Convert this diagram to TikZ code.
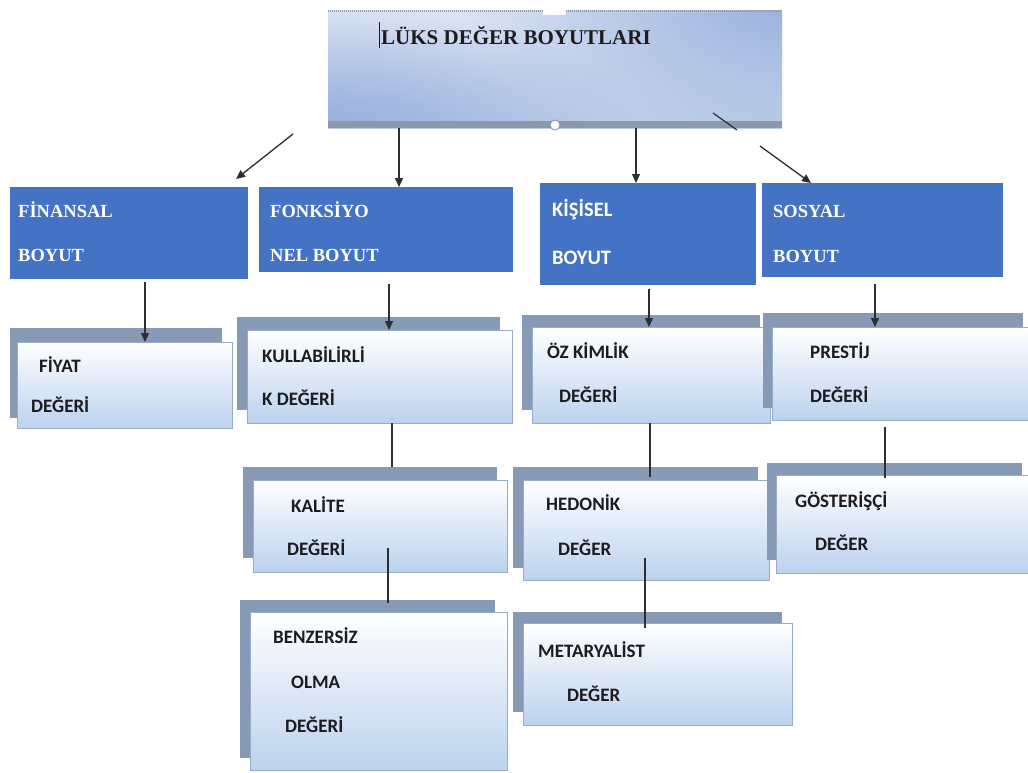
\documentclass[tikz,border=0pt]{standalone}
\usepackage{fontspec}
\setmainfont{Liberation Serif}
\newfontfamily\calib{Carlito}
\usetikzlibrary{arrows.meta,fadings}
\definecolor{boxblue}{RGB}{68,114,196}
\definecolor{backgrey}{RGB}{134,154,182}
\definecolor{lightbot}{RGB}{188,210,238}
\definecolor{frontedge}{RGB}{150,172,200}
\definecolor{darktxt}{RGB}{28,28,30}
\definecolor{titletop}{RGB}{222,230,244}
\definecolor{titlemid}{RGB}{226,233,245}
\definecolor{titlebot}{RGB}{190,205,234}
\definecolor{titleblue}{RGB}{150,174,220}
\definecolor{bandgrey}{RGB}{140,152,172}
\definecolor{linecol}{RGB}{45,45,50}
\tikzfading[name=softblob, inner color=transparent!0, outer color=transparent!100]
\begin{document}
\begin{tikzpicture}[x=1pt,y=-1pt,
  bluebox/.style={fill=boxblue, draw=none, inner sep=0pt, outer sep=0pt, anchor=north west},
  frontbox/.style={top color=white, bottom color=lightbot, draw=frontedge, line width=0.8pt, inner sep=0pt, outer sep=0pt, anchor=north west},
  backbox/.style={fill=backgrey, draw=none, inner sep=0pt, outer sep=0pt, anchor=north west},
  btxt/.style={anchor=base west, inner sep=0pt, text=white, font=\fontsize{18.5}{20}\selectfont\bfseries},
  bctxt/.style={anchor=base west, inner sep=0pt, text=white, font=\calib\fontsize{20.5}{22}\selectfont\bfseries},
  ctxt/.style={anchor=base west, inner sep=0pt, text=darktxt, font=\calib\fontsize{19}{20}\selectfont\bfseries},
  arr/.style={draw=linecol, line width=1.3pt, -{Triangle[length=9pt,width=8pt]}},
  conn/.style={draw=linecol, line width=1.2pt},
]
\useasboundingbox (0,0) rectangle (1028,772);
\fill[white] (0,0) rectangle (1028,772);

% ---------- title box ----------
\node[anchor=north west, inner sep=0pt, outer sep=0pt, minimum width=454pt, minimum height=118pt,
      top color=titletop, middle color=titlemid, bottom color=titlebot] (top) at (328,10) {};
\begin{scope}
  \clip (328,10) rectangle (782,121);
  \fill[titleblue, path fading=softblob] (800,0) ellipse (340pt and 150pt);
  \fill[titleblue, path fading=softblob] (320,135) ellipse (320pt and 130pt);
\end{scope}
\fill[bandgrey] (328,121) rectangle (782,128);
\draw[bandgrey, line width=1.5pt, dash pattern=on 1pt off 1pt] (328,11) -- (782,11);
\fill[white] (543,6) rectangle (566,15);
\node[circle, draw=bandgrey, fill=white, minimum size=10pt, inner sep=0pt, line width=1pt] (cir) at (555,125) {};
\draw[darktxt, line width=0.7pt] (379,22) -- (379,48);
\node[anchor=base west, inner sep=0pt, text=darktxt, font=\fontsize{21}{22}\selectfont\bfseries] (title) at (381,44) {LÜKS DEĞER BOYUTLARI};

% ---------- blue boxes ----------
\node[bluebox, minimum width=238pt, minimum height=92pt] (fin) at (10,187) {};
\node[bluebox, minimum width=254pt, minimum height=85pt] (fonk) at (259,187) {};
\node[bluebox, minimum width=216pt, minimum height=102pt] (kis) at (540,183) {};
\node[bluebox, minimum width=241pt, minimum height=94pt] (sos) at (762,183) {};

\node[btxt] (finA) at (18,217) {FİNANSAL};
\node[btxt] (finB) at (18,261) {BOYUT};
\node[btxt] (fonkA) at (270,217) {FONKSİYO};
\node[btxt] (fonkB) at (270,261) {NEL BOYUT};
\node[bctxt] (kisA) at (552,216) {KİŞİSEL};
\node[bctxt] (kisB) at (552,264) {BOYUT};
\node[btxt] (sosA) at (773,217) {SOSYAL};
\node[btxt] (sosB) at (773,262) {BOYUT};

% ---------- light boxes: finansal ----------
\node[backbox, minimum width=212pt, minimum height=90pt] (fiyB) at (10,328) {};
\node[frontbox, minimum width=215pt, minimum height=86pt] (fiy) at (17,342) {};
\node[ctxt] (fiyA) at (39,372) {FİYAT};
\node[ctxt] (fiyC) at (31,412) {DEĞERİ};

% ---------- fonksiyonel ----------
\node[backbox, minimum width=263pt, minimum height=93pt] (kulB) at (237,317) {};
\node[frontbox, minimum width=265pt, minimum height=93pt] (kul) at (247,330) {};
\node[ctxt] (kulA) at (262,362) {KULLABİLİRLİ};
\node[ctxt] (kulC) at (262,405) {K DEĞERİ};

\node[backbox, minimum width=254pt, minimum height=91pt] (kalB) at (243,467) {};
\node[frontbox, minimum width=254pt, minimum height=92pt] (kal) at (253,480) {};
\node[ctxt] (kalA) at (291,512) {KALİTE};
\node[ctxt] (kalC) at (287,555) {DEĞERİ};

\node[backbox, minimum width=255pt, minimum height=158pt] (benB) at (240,600) {};
\node[frontbox, minimum width=257pt, minimum height=158pt] (ben) at (250,612) {};
\node[ctxt] (benA) at (273,643) {BENZERSİZ};
\node[ctxt] (benC) at (291,688) {OLMA};
\node[ctxt] (benD) at (285,732) {DEĞERİ};

% ---------- kisisel ----------
\node[backbox, minimum width=238pt, minimum height=95pt] (ozB) at (522,315) {};
\node[frontbox, minimum width=238pt, minimum height=96pt] (oz) at (532,327) {};
\node[ctxt] (ozA) at (547,358) {ÖZ KİMLİK};
\node[ctxt] (ozC) at (559,402) {DEĞERİ};

\node[backbox, minimum width=245pt, minimum height=101pt] (hedB) at (513,467) {};
\node[frontbox, minimum width=246pt, minimum height=100pt] (hed) at (523,480) {};
\node[ctxt] (hedA) at (546,510) {HEDONİK};
\node[ctxt] (hedC) at (558,555) {DEĞER};

\node[backbox, minimum width=269pt, minimum height=100pt] (metB) at (513,612) {};
\node[frontbox, minimum width=269pt, minimum height=102pt] (met) at (523,623) {};
\node[ctxt] (metA) at (538,657) {METARYALİST};
\node[ctxt] (metC) at (567,701) {DEĞER};

% ---------- sosyal ----------
\node[backbox, minimum width=260pt, minimum height=95pt] (preB) at (763,313) {};
\node[frontbox, minimum width=256pt, minimum height=93pt] (pre) at (772,327) {};
\node[ctxt] (preA) at (810,358) {PRESTİJ};
\node[ctxt] (preC) at (810,402) {DEĞERİ};

\node[backbox, minimum width=255pt, minimum height=97pt] (gosB) at (767,463) {};
\node[frontbox, minimum width=252pt, minimum height=98pt] (gos) at (776,475) {};
\node[ctxt] (gosA) at (795,507) {GÖSTERİŞÇİ};
\node[ctxt] (gosC) at (815,550) {DEĞER};

% ---------- arrows from title ----------
\coordinate (t1) at (293,134);
\coordinate (h1) at (236,179);
\draw[arr] (t1) -- (h1);
\coordinate (t2) at (399,128);
\draw[arr] (t2) -- (t2 |- fonk.north);
\coordinate (t3) at (636,128);
\draw[arr] (t3) -- (t3 |- kis.north);
\coordinate (t4a) at (713,113);
\coordinate (t4b) at (737,130);
\draw[conn] (t4a) -- (t4b);
\coordinate (t4c) at (760,146);
\coordinate (h4) at (811,183);
\draw[arr] (t4c) -- (h4);

% ---------- arrows from blue boxes ----------
\coordinate (f1) at (145,282);
\draw[arr] (f1) -- (f1 |- fiy.north);
\coordinate (f2) at (389,284);
\draw[arr] (f2) -- (f2 |- kul.north);
\coordinate (f3) at (649,289);
\draw[arr] (f3) -- (f3 |- oz.north);
\coordinate (f4) at (875,284);
\draw[arr] (f4) -- (f4 |- pre.north);

% ---------- connectors between light boxes ----------
\coordinate (c1) at (392,423);
\draw[conn] (c1) -- (c1 |- kalB.north);
\coordinate (c2) at (388,548);
\coordinate (c2e) at (388,603);
\draw[conn] (c2) -- (c2e);
\coordinate (c3) at (650,423);
\coordinate (c3e) at (650,477);
\draw[conn] (c3) -- (c3e);
\coordinate (c4) at (645,558);
\coordinate (c4e) at (645,628);
\draw[conn] (c4) -- (c4e);
\coordinate (c5) at (885,427);
\coordinate (c5e) at (885,478);
\draw[conn] (c5) -- (c5e);
\end{tikzpicture}
\end{document}
